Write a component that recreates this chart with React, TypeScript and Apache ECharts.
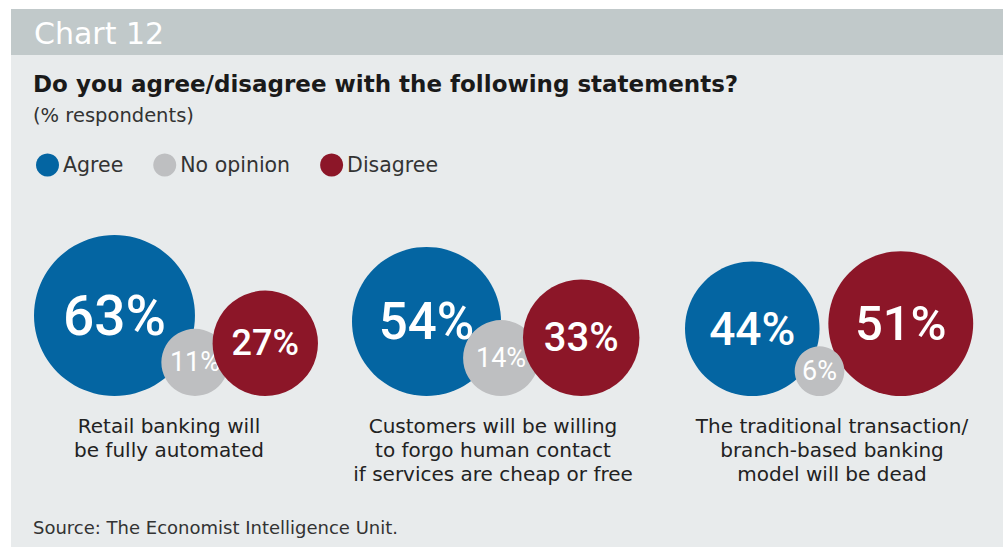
import React, { useEffect, useRef } from "react";
import * as echarts from "echarts";

// ---- Data ----
const statements = [
  ["Retail banking will", "be fully automated"],
  ["Customers will be willing", "to forgo human contact", "if services are cheap or free"],
  ["The traditional transaction/", "branch-based banking", "model will be dead"],
];
const agree = [63, 54, 44];
const noOpinion = [11, 14, 6];
const disagree = [27, 33, 51];
const legendNames = ["Agree", "No opinion", "Disagree"];

// ---- Layout / style ----
const W = 1003;
const H = 547;
const groupLeft = [34, 352, 685]; // left edge of each group's first bubble
const baseY = 396; // bubble bottoms
const K = 10.14; // px radius per sqrt(%)
const overlap = 16;
const grayOnTop = [false, false, true];
const captionX = [169, 493, 832];
const BLUE = "#0465a2";
const GRAY = "#bebfc1";
const RED = "#8c1628";
const FONT = "'DejaVu Sans', sans-serif";
const NUMFONT = "Roboto, 'Noto Sans', sans-serif";

const rad = (v: number) => K * Math.sqrt(v);
const fs = (v: number) => Math.round(Math.max(0.68 * rad(v), 27));

function positions(i: number) {
  const rB = rad(agree[i]);
  const rG = rad(noOpinion[i]);
  const rR = rad(disagree[i]);
  const bx = groupLeft[i] + rB;
  const gx = bx + rB;
  const rx = gx + rG + rR - overlap;
  return { bx, gx, rx, rB, rG, rR };
}

function item(x: number, r: number, v: number, weight: number) {
  return {
    value: [x, baseY - r, v],
    symbolSize: 2 * r,
    label: { fontSize: fs(v), fontWeight: weight },
  };
}

export default function App() {
  const ref = useRef<HTMLDivElement>(null);
  useEffect(() => {
    if (!ref.current) return;
    const chart = echarts.init(ref.current, null, { renderer: "svg" });
    const idx = agree.map((_, i) => i);
    const label = {
      show: true,
      position: "inside",
      color: "#ffffff",
      fontFamily: NUMFONT,
      formatter: (p: any) => `${p.value[2]}%`,
    };
    const base = { type: "scatter", symbol: "circle", animation: false, label, emphasis: { disabled: true } };
    const graphic: any[] = [
      { type: "rect", shape: { x: 11, y: 9, width: W - 11, height: 46 }, style: { fill: "#c1c9ca" }, silent: true },
      { type: "rect", shape: { x: 11, y: 55, width: W - 11, height: H - 55 }, style: { fill: "#e8ebec" }, silent: true },
      {
        type: "text",
        x: 34,
        y: 33,
        style: { text: "Chart 12", fill: "#ffffff", fontSize: 30, fontFamily: FONT, verticalAlign: "middle" },
      },
      {
        type: "text",
        x: 33,
        y: 84,
        style: {
          text: "Do you agree/disagree with the following statements?",
          fill: "#1a1a1a",
          fontSize: 23,
          fontWeight: "bold",
          fontFamily: FONT,
          verticalAlign: "middle",
        },
      },
      {
        type: "text",
        x: 33,
        y: 115,
        style: { text: "(% respondents)", fill: "#333333", fontSize: 19.5, fontFamily: FONT, verticalAlign: "middle" },
      },
      {
        type: "text",
        x: 33,
        y: 527,
        style: {
          text: "Source: The Economist Intelligence Unit.",
          fill: "#333333",
          fontSize: 18,
          fontFamily: FONT,
          verticalAlign: "middle",
        },
      },
    ];
    statements.forEach((lines, i) => {
      graphic.push({
        type: "text",
        x: captionX[i],
        y: 414,
        style: {
          text: lines.join("\n"),
          fill: "#222222",
          fontSize: 20,
          lineHeight: 24,
          fontFamily: FONT,
          align: "center",
          verticalAlign: "top",
        },
      });
    });

    chart.setOption({
      animation: false,
      backgroundColor: "#ffffff",
      grid: { left: 0, right: 0, top: 0, bottom: 0 },
      xAxis: { type: "value", min: 0, max: W, show: false },
      yAxis: { type: "value", min: 0, max: H, inverse: true, show: false },
      legend: {
        data: legendNames,
        left: 36,
        top: 153.5,
        padding: 0,
        icon: "circle",
        itemWidth: 23,
        itemHeight: 23,
        itemGap: 30,
        itemStyle: { opacity: 1 },
        textStyle: { fontSize: 20.5, color: "#333333", fontFamily: FONT, padding: [0, 0, 0, -1] },
        selectedMode: false,
      },
      graphic,
      series: [
        {
          ...base,
          name: "Agree",
          z: 2,
          itemStyle: { color: BLUE, opacity: 1 },
          data: idx.map((i) => {
            const p = positions(i);
            return item(p.bx, p.rB, agree[i], 500);
          }),
        },
        {
          ...base,
          name: "No opinion",
          z: 3,
          itemStyle: { color: GRAY, opacity: 1 },
          data: idx.filter((i) => !grayOnTop[i]).map((i) => {
            const p = positions(i);
            return item(p.gx, p.rG, noOpinion[i], 400);
          }),
        },
        {
          ...base,
          name: "Disagree",
          z: 4,
          itemStyle: { color: RED, opacity: 1 },
          data: idx.map((i) => {
            const p = positions(i);
            return item(p.rx, p.rR, disagree[i], 500);
          }),
        },
        {
          ...base,
          name: "No opinion",
          z: 5,
          itemStyle: { color: GRAY, opacity: 1 },
          data: idx.filter((i) => grayOnTop[i]).map((i) => {
            const p = positions(i);
            return item(p.gx, p.rG, noOpinion[i], 400);
          }),
        },
      ],
    });
    return () => chart.dispose();
  }, []);
  return (
    <div
      ref={ref}
      style={{ position: "fixed", left: 0, top: 0, width: W, height: H, background: "#ffffff" }}
    />
  );
}
